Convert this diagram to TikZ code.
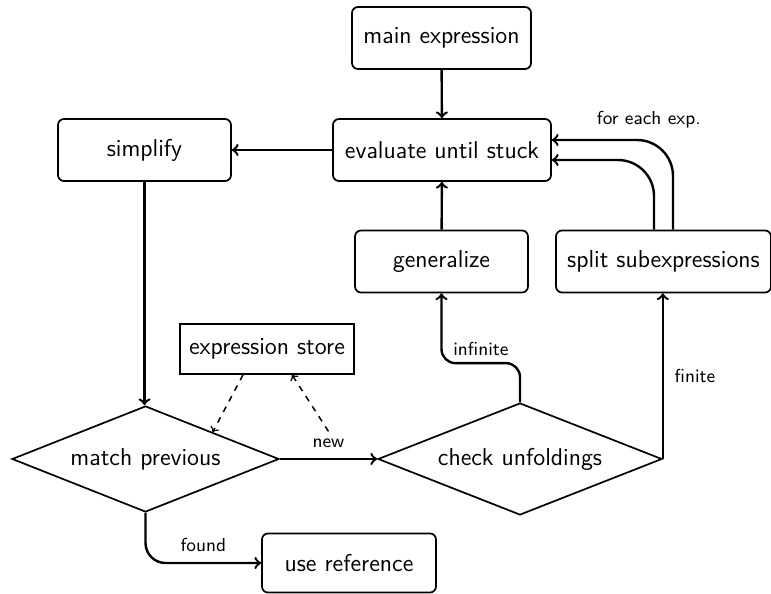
\documentclass[tikz,border=0pt]{standalone}
\usetikzlibrary{shapes.geometric,calc}
\begin{document}
\begin{tikzpicture}[x=0.5pt,y=-0.5pt,
  font=\sffamily\fontsize{12.2}{14}\selectfont,
  box/.style={draw,line width=0.85pt,rounded corners=3pt,minimum height=31pt,inner sep=2pt},
  storebox/.style={draw,line width=0.85pt,minimum width=87pt,minimum height=25pt,inner sep=2pt},
  dia/.style={draw,line width=0.85pt,diamond,aspect=2.5,inner sep=0pt},
  arr/.style={->,line width=1.2pt},
  dsh/.style={->,dashed,line width=0.75pt},
  lbl/.style={font=\sffamily\fontsize{9.4}{11}\selectfont}
]
\useasboundingbox (0,0) rectangle (771,594);

\node[box,minimum width=89.5pt] (main) at (441.5,38) {main expression};
\node[box,minimum width=109pt] (eval) at (442,150) {evaluate until stuck};
\node[box,minimum width=86.5pt] (simp) at (144.5,150) {simplify};
\node[box,minimum width=86.5pt] (gen) at (441.5,261.5) {generalize};
\node[box,minimum width=107.5pt] (split) at (663.5,261.5) {split subexpressions};
\node[storebox] (store) at (267,349) {expression store};
\node[dia,minimum width=133.5pt,minimum height=53pt] (match) at (145.5,459) {match previous};
\node[dia,minimum width=142pt,minimum height=56pt] (check) at (520,459) {check unfoldings};
\node[box,minimum width=87pt,minimum height=29.5pt] (use) at (349,563) {use reference};

\draw[arr] (main) -- (eval);
\draw[arr] (eval) -- (simp);
\draw[arr] (gen) -- (eval);
\draw[arr] (simp.south) -- (simp.south |- match.north);
\draw[arr] (match.east) -- node[lbl,midway,above=1.5pt] (newlbl) {new} (check.west);
\draw[arr,rounded corners=7pt] (check.north) -- ++(0,-39) -| node[lbl,pos=0.6,right=2pt] {infinite} (gen.south);
\draw[arr] (check.east) -- node[lbl,midway,right=2pt] {finite} (check.east |- split.south);
\draw[arr,rounded corners=18pt] ([xshift=-4.75pt]split.north) |- ([yshift=-5pt]eval.east);
\draw[arr,rounded corners=18pt] ([xshift=4.75pt]split.north) |- node[lbl,pos=0.6,above=2pt] {for each exp.} ([yshift=5pt]eval.east);
\draw[arr,rounded corners=10pt] (match.south) |- node[lbl,pos=0.75,above=1.5pt] {found} (use.west);

\draw[dsh] ([xshift=-12pt]store.south) -- (match.north east);
\draw[dsh] (newlbl.north) -- ([xshift=12.5pt]store.south);
\end{tikzpicture}
\end{document}
